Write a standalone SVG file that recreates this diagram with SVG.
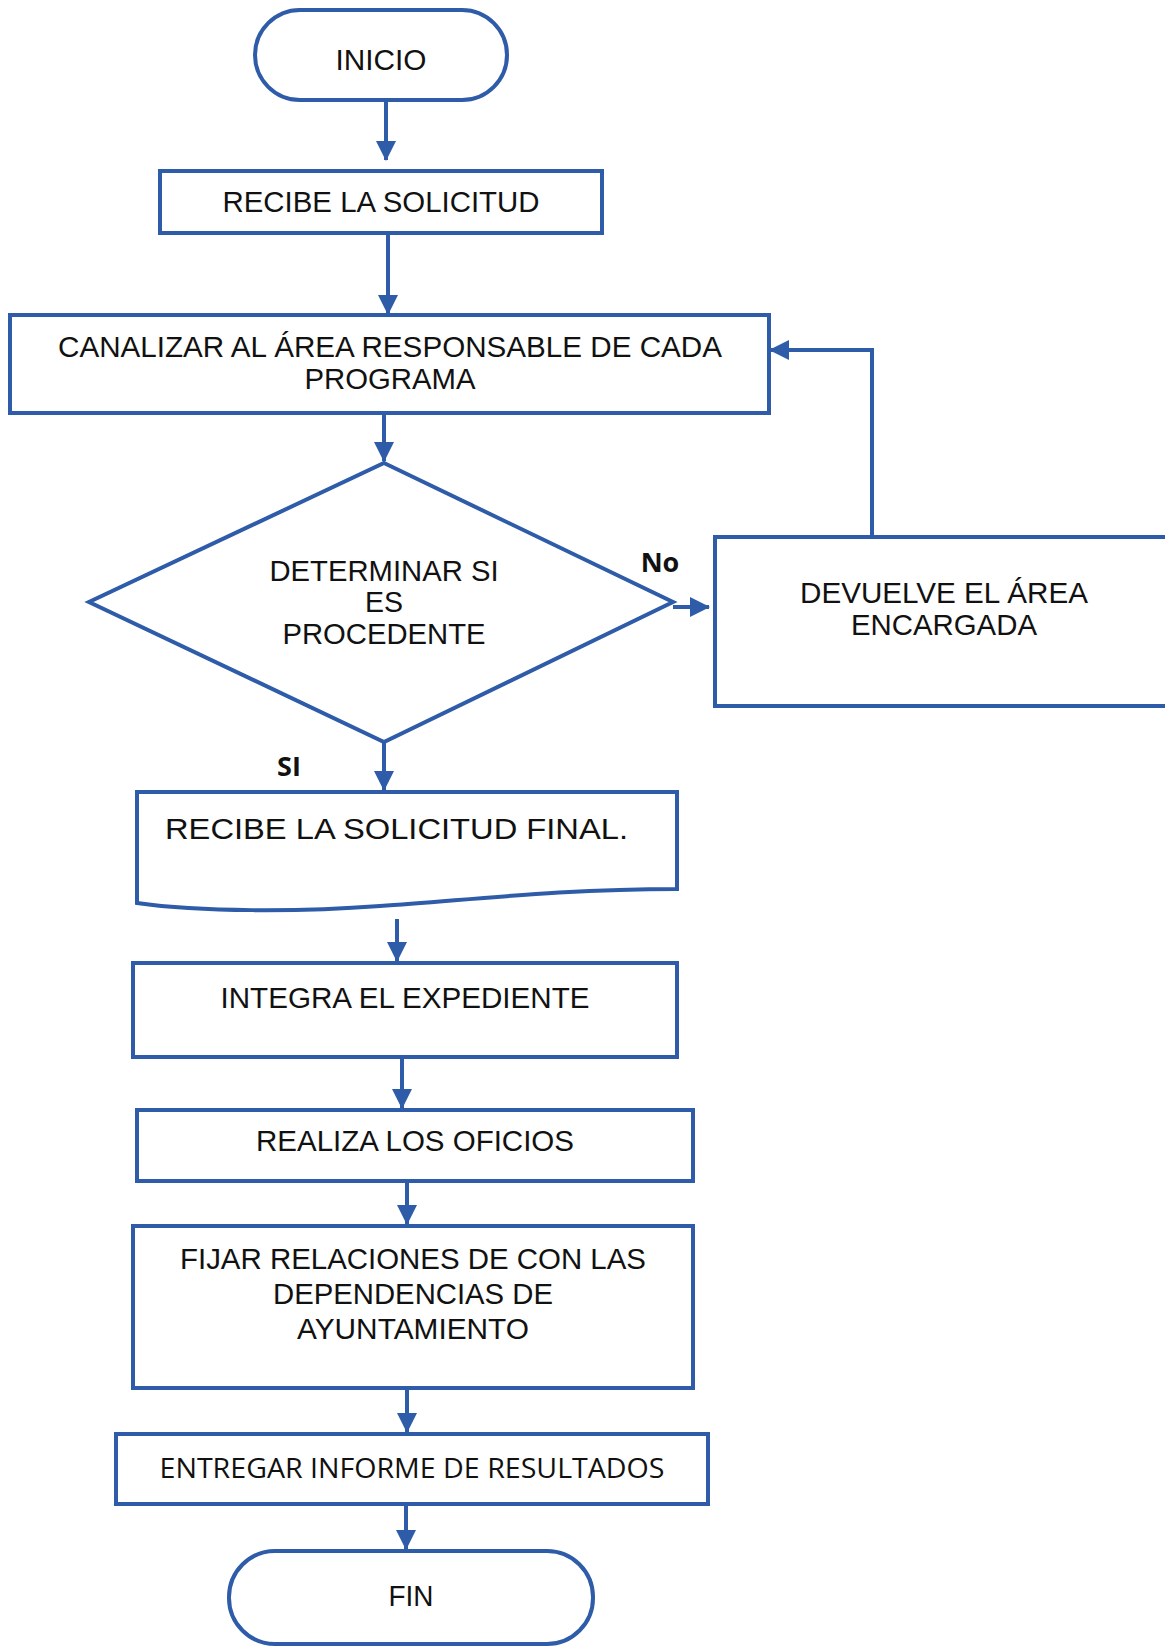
<svg xmlns="http://www.w3.org/2000/svg" width="1165" height="1646" viewBox="0 0 1165 1646">
  <defs>
    <marker id="arrow" markerUnits="userSpaceOnUse" markerWidth="20" markerHeight="22" viewBox="0 0 20 22" refX="19" refY="11" orient="auto">
      <path d="M0,1 L20,11 L0,21 Z" fill="#2e5ca8"/>
    </marker>
    <style>
      .shape { fill: #ffffff; stroke: #2e5ca8; stroke-width: 4; }
      .edge { fill: none; stroke: #2e5ca8; stroke-width: 4; marker-end: url(#arrow); }
      .lbl { font-family: "Liberation Sans", Arial, sans-serif; font-size: 29px; fill: #111111; text-anchor: middle; }
      .tag { font-family: "Open Sans", "Liberation Sans", sans-serif; font-weight: bold; font-size: 27px; fill: #111111; text-anchor: middle; }
      .alt { font-family: "Open Sans", "Liberation Sans", sans-serif; font-size: 27px; fill: #111111; text-anchor: middle; }
    </style>
  </defs>

  <rect width="1165" height="1646" fill="#ffffff"/>

  <!-- connectors -->
  <g id="connectors">
    <path class="edge" d="M386,100 V160"/>
    <path class="edge" d="M388,233 V314"/>
    <path class="edge" d="M384,413 V461"/>
    <path class="edge" d="M673,607 H709"/>
    <path class="edge" d="M872,537 V350 H770"/>
    <path class="edge" d="M384,742 V790"/>
    <path class="edge" d="M397,919 V961"/>
    <path class="edge" d="M402,1057 V1108"/>
    <path class="edge" d="M407,1181 V1224"/>
    <path class="edge" d="M407,1388 V1432"/>
    <path class="edge" d="M406,1504 V1549"/>
    <text class="tag" x="660" y="572">No</text>
    <text class="tag" x="289" y="776">SI</text>
  </g>

  <g id="inicio">
    <rect class="shape" x="255" y="10" width="252" height="90" rx="45" ry="45"/>
    <text class="lbl" x="381" y="70" font-size="30" textLength="91" lengthAdjust="spacingAndGlyphs">INICIO</text>
  </g>

  <g id="recibe-solicitud">
    <rect class="shape" x="160" y="171" width="442" height="62"/>
    <text class="lbl" x="381" y="212" textLength="317" lengthAdjust="spacingAndGlyphs">RECIBE LA SOLICITUD</text>
  </g>

  <g id="canalizar">
    <rect class="shape" x="10" y="315" width="759" height="98"/>
    <text class="lbl" x="390" y="357" textLength="664" lengthAdjust="spacingAndGlyphs">CANALIZAR AL ÁREA RESPONSABLE DE CADA</text>
    <text class="lbl" x="390" y="389" textLength="171" lengthAdjust="spacingAndGlyphs">PROGRAMA</text>
  </g>

  <g id="determinar">
    <polygon class="shape" points="384,463 673,602 384,742 89,602"/>
    <text class="lbl" x="384" y="581" textLength="229" lengthAdjust="spacingAndGlyphs">DETERMINAR SI</text>
    <text class="lbl" x="384" y="612" textLength="38" lengthAdjust="spacingAndGlyphs">ES</text>
    <text class="lbl" x="384" y="644" textLength="203" lengthAdjust="spacingAndGlyphs">PROCEDENTE</text>
  </g>

  <g id="devuelve">
    <rect class="shape" x="715" y="537" width="460" height="169"/>
    <text class="lbl" x="944" y="603" textLength="288" lengthAdjust="spacingAndGlyphs">DEVUELVE EL ÁREA</text>
    <text class="lbl" x="944" y="635" textLength="186" lengthAdjust="spacingAndGlyphs">ENCARGADA</text>
  </g>

  <g id="solicitud-final">
    <path class="shape" d="M137,792 H677 V889 C560,889 470,900 380,906 C300,912 200,912 137,903 Z"/>
    <text class="lbl" x="165" y="839" font-size="32" style="text-anchor:start" textLength="463" lengthAdjust="spacingAndGlyphs">RECIBE LA SOLICITUD FINAL.</text>
  </g>

  <g id="integra">
    <rect class="shape" x="133" y="963" width="544" height="94"/>
    <text class="lbl" x="405" y="1008" textLength="369" lengthAdjust="spacingAndGlyphs">INTEGRA EL EXPEDIENTE</text>
  </g>

  <g id="realiza">
    <rect class="shape" x="137" y="1110" width="556" height="71"/>
    <text class="lbl" x="415" y="1151" textLength="318" lengthAdjust="spacingAndGlyphs">REALIZA LOS OFICIOS</text>
  </g>

  <g id="fijar">
    <rect class="shape" x="133" y="1226" width="560" height="162"/>
    <text class="lbl" x="413" y="1269" textLength="466" lengthAdjust="spacingAndGlyphs">FIJAR RELACIONES DE CON LAS</text>
    <text class="lbl" x="413" y="1304" textLength="280" lengthAdjust="spacingAndGlyphs">DEPENDENCIAS DE</text>
    <text class="lbl" x="413" y="1339" textLength="232" lengthAdjust="spacingAndGlyphs">AYUNTAMIENTO</text>
  </g>

  <g id="entregar">
    <rect class="shape" x="116" y="1434" width="592" height="70"/>
    <text class="alt" x="412" y="1478" textLength="505" lengthAdjust="spacingAndGlyphs">ENTREGAR INFORME DE RESULTADOS</text>
  </g>

  <g id="fin">
    <rect class="shape" x="229" y="1551" width="364" height="93" rx="46" ry="46"/>
    <text class="lbl" x="411" y="1606" textLength="45" lengthAdjust="spacingAndGlyphs">FIN</text>
  </g>
</svg>
